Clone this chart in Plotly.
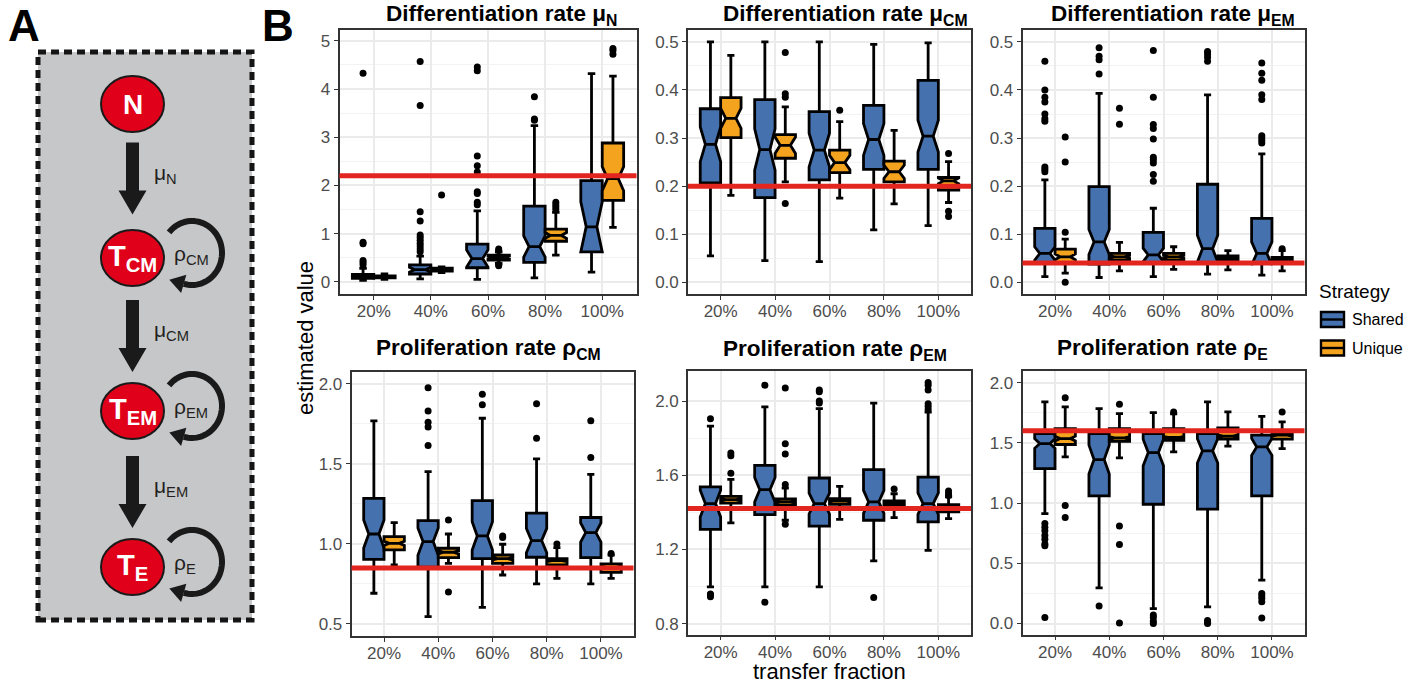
import numpy as np
import plotly.graph_objects as go

W, H = 1421, 684
FONT = "Liberation Sans, Arial, Helvetica, sans-serif"

categories = ["20%", "40%", "60%", "80%", "100%"]
strategies = ["Shared", "Unique"]
fill_colors = {"Shared": "#4571AE", "Unique": "#F4A31E"}
truth_color = "#E3251F"

# ---------------- box statistics per parameter ----------------
# Differentiation rate mu_N
mu_n_shared_lo = [0.03, 0.06, 0.05, 0.08, 0.20]
mu_n_shared_q1 = [0.07, 0.16, 0.29, 0.40, 0.62]
mu_n_shared_med = [0.11, 0.25, 0.48, 0.73, 1.14]
mu_n_shared_q3 = [0.15, 0.35, 0.78, 1.57, 2.10]
mu_n_shared_hi = [0.28, 0.53, 1.47, 3.24, 4.32]
mu_n_shared_notch = [0.02, 0.05, 0.18, 0.22, 0.52]
mu_n_shared_out = [[0.35, 0.40, 0.44, 0.79, 0.82, 4.33],
                   [0.62, 0.68, 0.74, 0.80, 0.86, 0.92, 0.97, 1.26, 1.45, 3.66, 4.57],
                   [1.60, 1.65, 1.83, 1.87, 2.28, 2.41, 2.61, 4.38, 4.46],
                   [3.35, 3.38, 3.84],
                   []]
mu_n_unique_lo = [0.05, 0.19, 0.38, 0.55, 1.13]
mu_n_unique_q1 = [0.08, 0.22, 0.45, 0.84, 1.69]
mu_n_unique_med = [0.10, 0.25, 0.50, 0.96, 2.14]
mu_n_unique_q3 = [0.12, 0.28, 0.55, 1.09, 2.88]
mu_n_unique_hi = [0.16, 0.31, 0.62, 1.44, 4.27]
mu_n_unique_notch = [0.01, 0.01, 0.03, 0.06, 0.25]
mu_n_unique_out = [[], [1.80], [0.33, 0.36, 0.65, 0.68], [1.50, 1.55, 1.60, 1.65], [4.72, 4.80, 4.84]]

# Differentiation rate mu_CM
mu_cm_shared_lo = [0.055, 0.045, 0.043, 0.109, 0.118]
mu_cm_shared_q1 = [0.207, 0.176, 0.213, 0.235, 0.235]
mu_cm_shared_med = [0.287, 0.276, 0.275, 0.297, 0.304]
mu_cm_shared_q3 = [0.361, 0.380, 0.355, 0.368, 0.420]
mu_cm_shared_hi = [0.500, 0.500, 0.500, 0.495, 0.498]
mu_cm_shared_notch = [0.036, 0.043, 0.035, 0.033, 0.033]
mu_cm_shared_out = [[], [], [], [], []]
mu_cm_unique_lo = [0.181, 0.209, 0.175, 0.163, 0.166]
mu_cm_unique_q1 = [0.301, 0.258, 0.228, 0.209, 0.192]
mu_cm_unique_med = [0.341, 0.285, 0.249, 0.230, 0.211]
mu_cm_unique_q3 = [0.384, 0.307, 0.275, 0.252, 0.218]
mu_cm_unique_hi = [0.472, 0.365, 0.334, 0.316, 0.251]
mu_cm_unique_notch = [0.021, 0.017, 0.015, 0.014, 0.006]
mu_cm_unique_out = [[], [0.164, 0.385, 0.392, 0.478], [0.358], [], [0.137, 0.148, 0.268]]

# Differentiation rate mu_EM
mu_em_shared_lo = [0.012, 0.010, 0.012, 0.017, 0.015]
mu_em_shared_q1 = [0.040, 0.038, 0.040, 0.040, 0.040]
mu_em_shared_med = [0.060, 0.084, 0.057, 0.070, 0.060]
mu_em_shared_q3 = [0.112, 0.199, 0.104, 0.204, 0.133]
mu_em_shared_hi = [0.213, 0.393, 0.154, 0.390, 0.267]
mu_em_shared_notch = [0.014, 0.026, 0.014, 0.028, 0.024]
mu_em_shared_out = [[0.230, 0.235, 0.240, 0.335, 0.340, 0.350, 0.375, 0.385, 0.400, 0.460],
                    [0.433, 0.463, 0.470, 0.488],
                    [0.210, 0.224, 0.248, 0.255, 0.260, 0.298, 0.320, 0.328, 0.385, 0.482],
                    [0.460, 0.468, 0.475, 0.480],
                    [0.290, 0.295, 0.300, 0.305, 0.380, 0.390, 0.420, 0.435, 0.456]]
mu_em_unique_lo = [0.019, 0.024, 0.027, 0.026, 0.024]
mu_em_unique_q1 = [0.040, 0.046, 0.046, 0.045, 0.044]
mu_em_unique_med = [0.053, 0.053, 0.053, 0.050, 0.048]
mu_em_unique_q3 = [0.069, 0.060, 0.060, 0.055, 0.052]
mu_em_unique_hi = [0.090, 0.083, 0.074, 0.066, 0.066]
mu_em_unique_notch = [0.006, 0.003, 0.003, 0.002, 0.002]
mu_em_unique_out = [[0.000, 0.104, 0.250, 0.302], [0.329, 0.362], [], [], [0.070]]

# Proliferation rate rho_CM
rho_cm_shared_lo = [0.692, 0.546, 0.604, 0.750, 0.750]
rho_cm_shared_q1 = [0.904, 0.855, 0.908, 0.917, 0.915]
rho_cm_shared_med = [1.062, 1.015, 1.050, 1.021, 1.071]
rho_cm_shared_q3 = [1.285, 1.146, 1.271, 1.192, 1.165]
rho_cm_shared_hi = [1.769, 1.452, 1.785, 1.531, 1.435]
rho_cm_shared_notch = [0.088, 0.085, 0.088, 0.076, 0.060]
rho_cm_shared_out = [[], [1.615, 1.730, 1.760, 1.830, 1.975], [1.870, 1.935], [1.660, 1.875], [1.540, 1.770]]
rho_cm_unique_lo = [0.869, 0.879, 0.806, 0.785, 0.785]
rho_cm_unique_q1 = [0.963, 0.915, 0.879, 0.869, 0.823]
rho_cm_unique_med = [1.004, 0.948, 0.908, 0.896, 0.854]
rho_cm_unique_q3 = [1.046, 0.973, 0.931, 0.908, 0.875]
rho_cm_unique_hi = [1.133, 1.062, 0.998, 0.977, 0.930]
rho_cm_unique_notch = [0.013, 0.010, 0.008, 0.006, 0.007]
rho_cm_unique_out = [[], [0.700, 1.150], [1.040, 1.050], [1.000], [0.940]]

# Proliferation rate rho_EM
rho_em_shared_lo = [0.998, 0.998, 0.998, 1.138, 1.195]
rho_em_shared_q1 = [1.308, 1.387, 1.325, 1.357, 1.348]
rho_em_shared_med = [1.447, 1.522, 1.447, 1.456, 1.447]
rho_em_shared_q3 = [1.537, 1.653, 1.585, 1.630, 1.590]
rho_em_shared_hi = [1.865, 1.968, 1.959, 1.989, 1.940]
rho_em_shared_notch = [0.072, 0.066, 0.056, 0.062, 0.058]
rho_em_shared_out = [[0.945, 0.955, 0.960, 1.905], [0.915, 2.085], [1.990, 2.000, 2.050, 2.060],
                     [0.940], [1.955, 1.970, 1.985, 2.060, 2.085, 2.100]]
rho_em_unique_lo = [1.343, 1.357, 1.362, 1.371, 1.366]
rho_em_unique_q1 = [1.450, 1.438, 1.443, 1.438, 1.402]
rho_em_unique_med = [1.468, 1.456, 1.461, 1.450, 1.429]
rho_em_unique_q3 = [1.486, 1.472, 1.474, 1.461, 1.441]
rho_em_unique_hi = [1.578, 1.531, 1.540, 1.500, 1.483]
rho_em_unique_notch = [0.006, 0.005, 0.005, 0.004, 0.006]
rho_em_unique_out = [[1.610, 1.705, 1.720], [1.335, 1.550, 1.715, 1.770, 2.070], [], [1.525],
                     [1.490, 1.500, 1.515]]

# Proliferation rate rho_E
rho_e_shared_lo = [0.913, 0.296, 0.124, 0.138, 0.360]
rho_e_shared_q1 = [1.286, 1.059, 0.990, 0.949, 1.059]
rho_e_shared_med = [1.494, 1.361, 1.419, 1.433, 1.466]
rho_e_shared_q3 = [1.577, 1.577, 1.577, 1.577, 1.563]
rho_e_shared_hi = [1.840, 1.784, 1.751, 1.840, 1.720]
rho_e_shared_notch = [0.040, 0.120, 0.110, 0.100, 0.070]
rho_e_shared_out = [[0.050, 0.645, 0.660, 0.700, 0.730, 0.770, 0.800, 0.830], [0.145],
                    [0.000, 0.020, 0.050, 0.070], [0.000, 0.010, 0.025],
                    [0.045, 0.180, 0.210, 0.230, 0.250]]
rho_e_unique_lo = [1.383, 1.375, 1.425, 1.472, 1.452]
rho_e_unique_q1 = [1.486, 1.513, 1.521, 1.530, 1.530]
rho_e_unique_med = [1.535, 1.541, 1.544, 1.555, 1.563]
rho_e_unique_q3 = [1.618, 1.618, 1.618, 1.624, 1.577]
rho_e_unique_hi = [1.798, 1.743, 1.740, 1.757, 1.674]
rho_e_unique_notch = [0.020, 0.010, 0.010, 0.010, 0.008]
rho_e_unique_out = [[0.880, 0.980, 1.875], [0.005, 0.655, 0.810, 1.820], [1.755], [], [1.755]]

# true parameter values used in the simulations
true_values = [2.2, 0.2, 0.04, 0.85, 1.42, 1.6]

panel_titles = ["Differentiation rate μ<sub>N</sub>", "Differentiation rate μ<sub>CM</sub>",
                "Differentiation rate μ<sub>EM</sub>", "Proliferation rate ρ<sub>CM</sub>",
                "Proliferation rate ρ<sub>EM</sub>", "Proliferation rate ρ<sub>E</sub>"]

stats = [
    {"Shared": (mu_n_shared_lo, mu_n_shared_q1, mu_n_shared_med, mu_n_shared_q3, mu_n_shared_hi, mu_n_shared_notch, mu_n_shared_out),
     "Unique": (mu_n_unique_lo, mu_n_unique_q1, mu_n_unique_med, mu_n_unique_q3, mu_n_unique_hi, mu_n_unique_notch, mu_n_unique_out)},
    {"Shared": (mu_cm_shared_lo, mu_cm_shared_q1, mu_cm_shared_med, mu_cm_shared_q3, mu_cm_shared_hi, mu_cm_shared_notch, mu_cm_shared_out),
     "Unique": (mu_cm_unique_lo, mu_cm_unique_q1, mu_cm_unique_med, mu_cm_unique_q3, mu_cm_unique_hi, mu_cm_unique_notch, mu_cm_unique_out)},
    {"Shared": (mu_em_shared_lo, mu_em_shared_q1, mu_em_shared_med, mu_em_shared_q3, mu_em_shared_hi, mu_em_shared_notch, mu_em_shared_out),
     "Unique": (mu_em_unique_lo, mu_em_unique_q1, mu_em_unique_med, mu_em_unique_q3, mu_em_unique_hi, mu_em_unique_notch, mu_em_unique_out)},
    {"Shared": (rho_cm_shared_lo, rho_cm_shared_q1, rho_cm_shared_med, rho_cm_shared_q3, rho_cm_shared_hi, rho_cm_shared_notch, rho_cm_shared_out),
     "Unique": (rho_cm_unique_lo, rho_cm_unique_q1, rho_cm_unique_med, rho_cm_unique_q3, rho_cm_unique_hi, rho_cm_unique_notch, rho_cm_unique_out)},
    {"Shared": (rho_em_shared_lo, rho_em_shared_q1, rho_em_shared_med, rho_em_shared_q3, rho_em_shared_hi, rho_em_shared_notch, rho_em_shared_out),
     "Unique": (rho_em_unique_lo, rho_em_unique_q1, rho_em_unique_med, rho_em_unique_q3, rho_em_unique_hi, rho_em_unique_notch, rho_em_unique_out)},
    {"Shared": (rho_e_shared_lo, rho_e_shared_q1, rho_e_shared_med, rho_e_shared_q3, rho_e_shared_hi, rho_e_shared_notch, rho_e_shared_out),
     "Unique": (rho_e_unique_lo, rho_e_unique_q1, rho_e_unique_med, rho_e_unique_q3, rho_e_unique_hi, rho_e_unique_notch, rho_e_unique_out)},
]

# ---------------- page geometry (pixels) ----------------
def px(x):
    return x / W


def py(y):
    return 1 - y / H


# plot areas: (left, top, right, bottom)
panel_boxes = [(339.5, 29.5, 636.5, 294), (688, 29.5, 971, 294), (1022.5, 29.5, 1304.5, 294),
               (351.5, 371.5, 633.5, 636), (688, 371, 971, 634.5), (1022.5, 371, 1304.5, 634.5)]
y_ranges = [(-0.255, 5.236), (-0.0243, 0.5258), (-0.0243, 0.5258),
            (0.425, 2.077), (0.741, 2.162), (-0.091, 2.096)]
y_dticks = [(1, 0.5, "d"), (0.1, 0.05, ".1f"), (0.1, 0.05, ".1f"),
            (0.5, 0.25, ".1f"), (0.4, 0.2, ".1f"), (0.5, 0.25, ".1f")]
title_left = [385, 722, 1050, 375, 722, 1056]
title_top_y = [0, 0, 0, 334, 335, 334]

DODGE = 0.1875
BOX_W = 0.375
cat_pos = np.arange(1, len(categories) + 1)
offsets = {"Shared": -DODGE, "Unique": DODGE}

fig = go.Figure()
layout = {}
shapes = []
annotations = []

for i in range(6):
    n = "" if i == 0 else str(i + 1)
    xa, ya = "x" + n, "y" + n
    left, top, right, bottom = panel_boxes[i]
    major, minor, fmt = y_dticks[i]
    layout["xaxis" + n] = dict(
        domain=[px(left), px(right)], range=[0.4, 5.6], anchor=ya,
        tickmode="array", tickvals=list(cat_pos), ticktext=categories,
        showgrid=True, gridcolor="#EBEBEB", gridwidth=1.6, zeroline=False,
        showline=True, mirror=True, linecolor="#333333", linewidth=1.6,
        ticks="outside", ticklen=4, tickwidth=1.4, tickcolor="#333333", ticklabelstandoff=-3,
        tickfont=dict(size=17, color="#4D4D4D", family=FONT), fixedrange=True)
    layout["yaxis" + n] = dict(
        domain=[py(bottom), py(top)], range=list(y_ranges[i]), anchor=xa,
        tickmode="linear", tick0=0, dtick=major, tickformat=fmt,
        showgrid=True, gridcolor="#EBEBEB", gridwidth=1.6, zeroline=False,
        minor=dict(dtick=minor, tick0=0, showgrid=True, gridcolor="#F3F3F3", gridwidth=0.9, ticks=""),
        showline=True, mirror=True, linecolor="#333333", linewidth=1.6,
        ticks="outside", ticklen=4, tickwidth=1.4, tickcolor="#333333",
        tickfont=dict(size=17, color="#4D4D4D", family=FONT), fixedrange=True)

    for s in strategies:
        lo, q1, med, q3, hi, notch, out = stats[i][s]
        pos = cat_pos + offsets[s]
        fig.add_trace(go.Box(
            x=pos, q1=q1, median=med, q3=q3, lowerfence=lo, upperfence=hi,
            notchspan=notch, notched=True, notchwidth=0.25, width=BOX_W, whiskerwidth=0.35,
            fillcolor=fill_colors[s], line=dict(color="black", width=2.8),
            boxpoints=False, hoverinfo="skip", showlegend=False, xaxis=xa, yaxis=ya))
        ox, oy = [], []
        for p, vals in zip(pos, out):
            ox += [p] * len(vals)
            oy += vals
        fig.add_trace(go.Scatter(
            x=ox, y=oy, mode="markers", marker=dict(color="black", size=7, line=dict(width=0)),
            hoverinfo="skip", showlegend=False, xaxis=xa, yaxis=ya))

    # true value reference line
    shapes.append(dict(type="line", xref=xa + " domain", yref=ya, x0=0, x1=1,
                       y0=true_values[i], y1=true_values[i],
                       line=dict(color=truth_color, width=5), layer="above"))

    annotations.append(dict(text="<b>" + panel_titles[i] + "</b>", xref="paper", yref="paper",
                            x=px(title_left[i]), y=py(title_top_y[i]), xanchor="left", yanchor="top",
                            borderpad=0, showarrow=False, font=dict(size=22.5, color="black", family=FONT)))

# shared axis titles
annotations.append(dict(text="estimated value", xref="paper", yref="paper", x=px(305), y=py(338),
                        textangle=-90, showarrow=False, xanchor="center", yanchor="middle",
                        font=dict(size=22, color="black", family=FONT)))
annotations.append(dict(text="transfer fraction", xref="paper", yref="paper", x=px(829), y=py(671),
                        showarrow=False, xanchor="center", yanchor="middle",
                        font=dict(size=22, color="black", family=FONT)))

# legend
annotations.append(dict(text="Strategy", xref="paper", yref="paper", x=px(1317), y=py(292),
                        xanchor="left", yanchor="middle", showarrow=False,
                        font=dict(size=19, color="black", family=FONT)))
for s, cy in zip(strategies, [319.5, 348]):
    shapes.append(dict(type="rect", xref="paper", yref="paper", x0=px(1321), x1=px(1344),
                       y0=py(cy + 7.5), y1=py(cy - 7.5), fillcolor=fill_colors[s],
                       line=dict(color="black", width=2.4)))
    shapes.append(dict(type="line", xref="paper", yref="paper", x0=px(1321), x1=px(1344),
                       y0=py(cy), y1=py(cy), line=dict(color="black", width=2.4)))
    annotations.append(dict(text=s, xref="paper", yref="paper", x=px(1350), y=py(cy),
                            xanchor="left", yanchor="middle", showarrow=False,
                            font=dict(size=16, color="black", family=FONT)))

# ---------------- panel A: model diagram ----------------
shapes.insert(0, dict(type="rect", xref="paper", yref="paper", x0=px(38), x1=px(252),
                      y0=py(620), y1=py(52), fillcolor="#C6C7C9",
                      line=dict(color="#151515", width=5, dash="8px,5px"), layer="below"))

cell_x = 132.5
cell_y = [104, 258, 411, 567]
cell_labels = ["<b>N</b>", "<b>T<sub>CM</sub></b>", "<b>T<sub>EM</sub></b>", "<b>T<sub>E</sub></b>"]
for cy, lab in zip(cell_y, cell_labels):
    shapes.append(dict(type="circle", xref="paper", yref="paper",
                       x0=px(cell_x - 31.5), x1=px(cell_x + 31.5), y0=py(cy + 28), y1=py(cy - 28),
                       fillcolor="#E1001A", line=dict(color="#1A1A1A", width=2)))
    annotations.append(dict(text=lab, xref="paper", yref="paper", x=px(cell_x), y=py(cy),
                            xanchor="center", yanchor="middle", showarrow=False,
                            font=dict(size=29 if "T" in lab else 28, color="white", family=FONT)))

# transition arrows with rate labels
arrow_tops = [142.5, 300, 456]
arrow_labels = ["μ<sub>N</sub>", "μ<sub>CM</sub>", "μ<sub>EM</sub>"]
for top, lab in zip(arrow_tops, arrow_labels):
    base, tip = top + 48, top + 72
    pts = [(cell_x - 6.5, top), (cell_x + 6.5, top), (cell_x + 6.5, base), (cell_x + 14, base),
           (cell_x, tip), (cell_x - 14, base), (cell_x - 6.5, base)]
    path = "M " + " L ".join(f"{px(a):.5f},{py(b):.5f}" for a, b in pts) + " Z"
    shapes.append(dict(type="path", xref="paper", yref="paper", path=path,
                       fillcolor="#1A1A1A", line=dict(width=0)))
    annotations.append(dict(text=lab, xref="paper", yref="paper", x=px(152), y=py(top + 31),
                            xanchor="left", yanchor="middle", showarrow=False,
                            font=dict(size=21, color="#231F20", family=FONT)))

# self-renewal loops
loop_labels = ["ρ<sub>CM</sub>", "ρ<sub>EM</sub>", "ρ<sub>E</sub>"]
for cy, lab in zip(cell_y[1:], loop_labels):
    ccx, ccy, rx, ry = 192, cy - 5, 30, 32
    theta = np.radians(np.linspace(140, -106, 60))
    arc = [(ccx + rx * np.cos(t), ccy - ry * np.sin(t)) for t in theta]
    path = "M " + " L ".join(f"{px(a):.5f},{py(b):.5f}" for a, b in arc)
    shapes.append(dict(type="path", xref="paper", yref="paper", path=path,
                       line=dict(color="#1A1A1A", width=6)))
    t_end = theta[-1]
    ex, ey = arc[-1]
    # tangent direction of travel (clockwise) in screen coordinates
    dx, dy = np.sin(t_end) * rx / 30, np.cos(t_end) * ry / 32
    norm = np.hypot(dx, dy)
    dx, dy = dx / norm, dy / norm
    nx, ny = -dy, dx
    head = [(ex + nx * 9.5, ey + ny * 9.5), (ex + dx * 15, ey + dy * 15), (ex - nx * 9.5, ey - ny * 9.5)]
    hpath = "M " + " L ".join(f"{px(a):.5f},{py(b):.5f}" for a, b in head) + " Z"
    shapes.append(dict(type="path", xref="paper", yref="paper", path=hpath,
                       fillcolor="#1A1A1A", line=dict(width=0)))
    annotations.append(dict(text=lab, xref="paper", yref="paper", x=px(172), y=py(cy - 3),
                            xanchor="left", yanchor="middle", showarrow=False,
                            font=dict(size=21, color="#231F20", family=FONT)))

# panel letters
for letter, lx in (("A", 23.5), ("B", 278)):
    annotations.append(dict(text="<b>" + letter + "</b>", xref="paper", yref="paper", x=px(lx), y=py(25),
                            xanchor="center", yanchor="middle", showarrow=False,
                            font=dict(size=44, color="black", family=FONT)))

fig.update_layout(
    width=W, height=H, margin=dict(l=0, r=0, t=0, b=0, pad=0),
    paper_bgcolor="white", plot_bgcolor="white", boxmode="overlay",
    font=dict(family=FONT, color="black"), shapes=shapes, annotations=annotations,
    showlegend=False, **layout)

fig.write_html("out.html", config={"displayModeBar": False})
